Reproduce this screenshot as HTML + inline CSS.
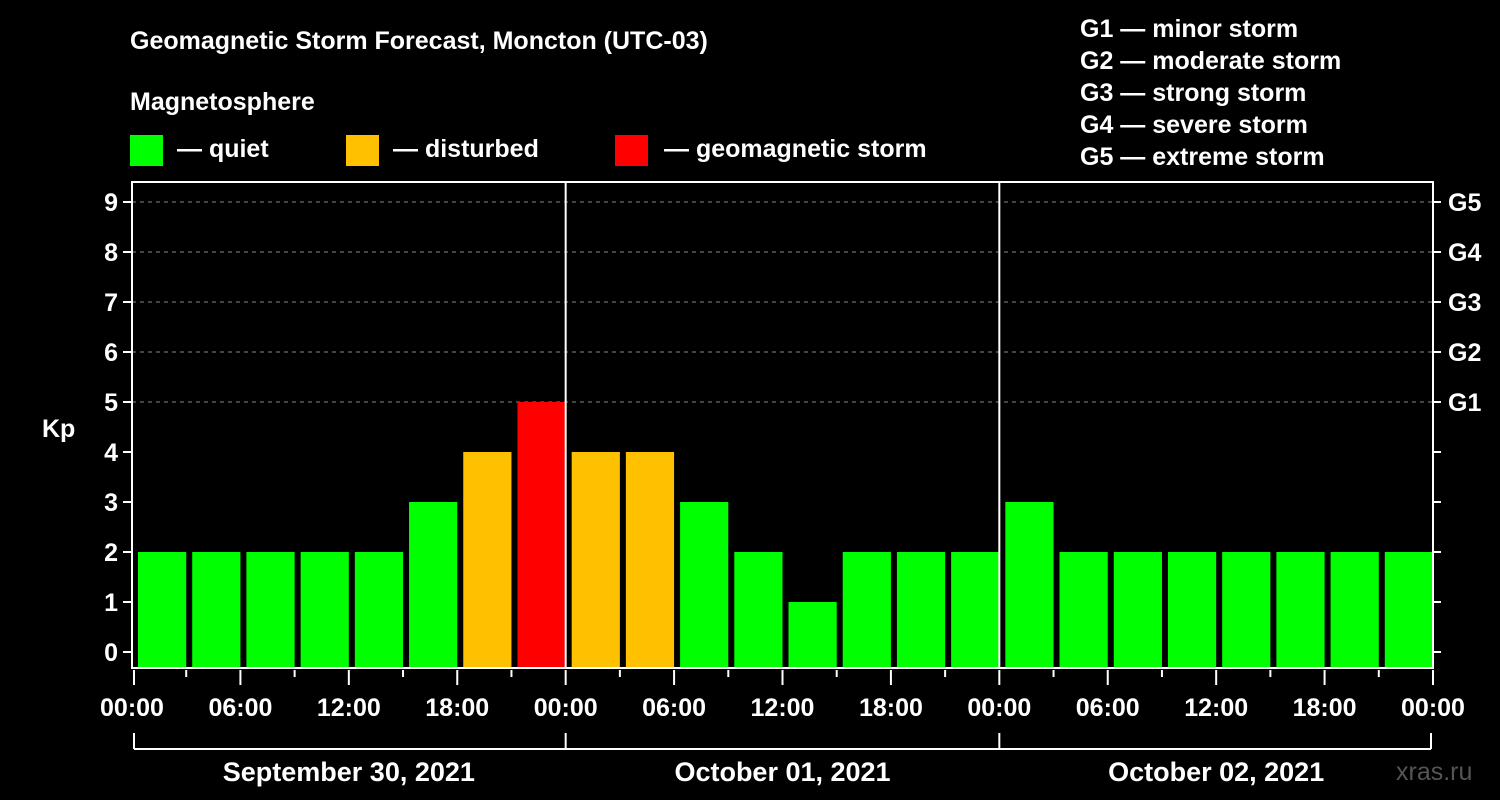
<!DOCTYPE html>
<html><head><meta charset="utf-8"><style>
body{margin:0;background:#000;width:1500px;height:800px;overflow:hidden}
svg{display:block;font-family:"Liberation Sans",Arial,sans-serif;font-weight:bold}
</style></head><body>
<svg id="c" width="1500" height="800">
<rect width="1500" height="800" fill="#000"/>
<text x="130" y="49" fill="#fff" font-size="25">Geomagnetic Storm Forecast, Moncton (UTC-03)</text>
<text x="130" y="110" fill="#fff" font-size="25">Magnetosphere</text>
<g><rect x="130" y="135" width="33" height="31" fill="#00ff00"/><text x="177" y="157" fill="#fff" font-size="25">— quiet</text></g>
<g><rect x="346" y="135" width="33" height="31" fill="#ffc000"/><text x="393" y="157" fill="#fff" font-size="25">— disturbed</text></g>
<g><rect x="615" y="135" width="33" height="31" fill="#ff0000"/><text x="664" y="157" fill="#fff" font-size="25">— geomagnetic storm</text></g>
<g fill="#fff" font-size="25">
<text x="1080" y="37">G1 — minor storm</text><text x="1080" y="69">G2 — moderate storm</text><text x="1080" y="101">G3 — strong storm</text><text x="1080" y="133">G4 — severe storm</text><text x="1080" y="165">G5 — extreme storm</text></g>
<text x="42" y="437" fill="#fff" font-size="25">Kp</text>
<text x="1396" y="780" fill="#555" font-size="25" font-weight="normal">xras.ru</text>
<g id="grid"></g><g id="bars"></g><g id="axes"></g>
</svg>
<script>
const kpValues=[2,2,2,2,2,3,4,5,4,4,3,2,1,2,2,2,3,2,2,2,2,2,2,2];
const yTicks=[0,1,2,3,4,5,6,7,8,9];
const gLabels=['G1','G2','G3','G4','G5'];
const xTickLabels=['00:00','06:00','12:00','18:00','00:00','06:00','12:00','18:00','00:00','06:00','12:00','18:00','00:00'];
const dayLabels=['September 30, 2021','October 01, 2021','October 02, 2021'];
const L=132,R=1433,T=182,B=668;
const slot=(R-L)/kpValues.length;
const x=i=>L+i*slot;
const y=v=>652-v*50;
const NS='http://www.w3.org/2000/svg';
function mk(p,tag,a){const e=document.createElementNS(NS,tag);for(const k in a)e.setAttribute(k,a[k]);document.getElementById(p).appendChild(e);return e;}
yTicks.forEach(v=>{if(v>=5){const l=mk('grid','line',{x1:L,x2:R,y1:y(v),y2:y(v),stroke:'#888','stroke-dasharray':'4,4'});

}});
kpValues.forEach((v,i)=>{const c=v>=5?'#ff0000':v>=4?'#ffc000':'#00ff00';
const r=mk('bars','rect',{x:x(i)+6,y:y(v),width:slot-6,height:B-y(v),fill:c});

});
const ax=mk('axes','rect',{x:L,y:T,width:R-L,height:B-T,fill:'none',stroke:'#fff','stroke-width':2});


[8,16].forEach(i=>{const l=mk('axes','line',{x1:x(i),x2:x(i),y1:T,y2:B,stroke:'#fff','stroke-width':2});

});
yTicks.forEach(v=>{mk('axes','line',{x1:L-9,x2:L,y1:y(v),y2:y(v),stroke:'#fff','stroke-width':2});
mk('axes','line',{x1:R,x2:R+8,y1:y(v),y2:y(v),stroke:'#fff','stroke-width':2});
const t=mk('axes','text',{x:L-14,y:y(v)+9,fill:'#fff','font-size':25,'text-anchor':'end'});t.textContent=v;

});
gLabels.forEach((g,i)=>{const t=mk('axes','text',{x:1448,y:y(5+i)+9,fill:'#fff','font-size':25});t.textContent=g;

});
for(let i=0;i<=24;i++){const maj=i%2==0;mk('axes','line',{x1:x(i)+(i==0?2:0),x2:x(i)+(i==0?2:0),y1:B+2,y2:maj?B+17:B+9,stroke:'#fff','stroke-width':2});}
xTickLabels.forEach((s,k)=>{const t=mk('axes','text',{x:x(k*2),y:716,fill:'#fff','font-size':25,'text-anchor':'middle'});t.textContent=s;

});
mk('axes','line',{x1:x(0)+2,x2:x(24)-2,y1:749,y2:749,stroke:'#fff','stroke-width':2});
[0,8,16,24].forEach(i=>mk('axes','line',{x1:x(i)+(i==0?2:i==24?-2:0),x2:x(i)+(i==0?2:i==24?-2:0),y1:733,y2:749,stroke:'#fff','stroke-width':2}));
dayLabels.forEach((d,k)=>{const t=mk('axes','text',{x:x(k*8+4),y:781,fill:'#fff','font-size':27,'text-anchor':'middle'});t.textContent=d;

});
</script>
</body></html>
